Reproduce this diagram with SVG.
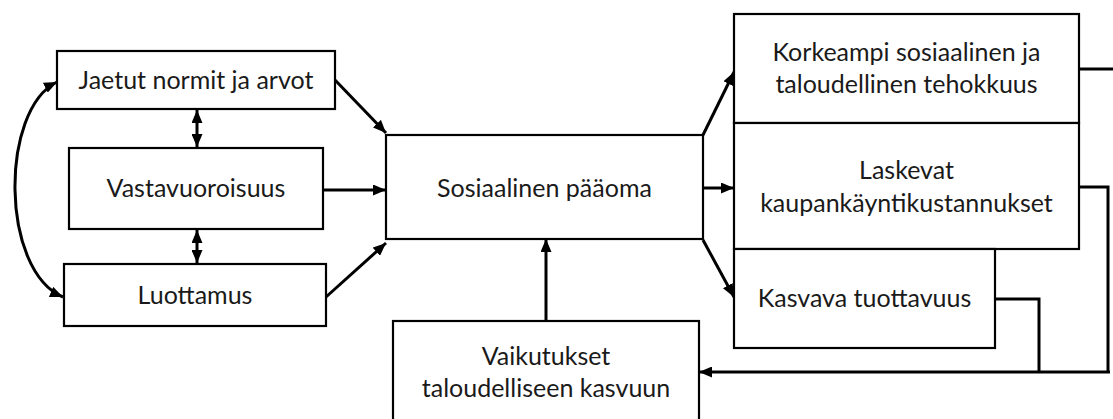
<svg xmlns="http://www.w3.org/2000/svg" width="1113" height="419" viewBox="0 0 1113 419">
<style>
.box{fill:#fff;stroke:#000;stroke-width:2.2}
.t{font-family:Lato,"Liberation Sans",sans-serif;font-size:25px;fill:#1a1a1a;text-anchor:middle}
.c{fill:none;stroke:#000;stroke-width:3}
</style>
<defs>
<marker id="ah" viewBox="0 0 13 11" refX="13" refY="5.5" markerWidth="13" markerHeight="11" markerUnits="userSpaceOnUse" orient="auto-start-reverse">
<path d="M0,0 L13,5.5 L0,11 z" fill="#000"/>
</marker>
</defs>
<rect width="1113" height="419" fill="#fff"/>
<g id="connectors">
<path class="c" d="M57,82 C0,110 0,270 63,297" marker-start="url(#ah)" marker-end="url(#ah)"/>
<path class="c" d="M197,110 L197,147" marker-start="url(#ah)" marker-end="url(#ah)"/>
<path class="c" d="M197,230 L197,263" marker-start="url(#ah)" marker-end="url(#ah)"/>
<path class="c" d="M335,80 L386,133" marker-end="url(#ah)"/>
<path class="c" d="M323,190 L386,190" marker-end="url(#ah)"/>
<path class="c" d="M326,297 L386,243" marker-end="url(#ah)"/>
<path class="c" d="M703,135 L734,72" marker-end="url(#ah)"/>
<path class="c" d="M703,188 L734,188" marker-end="url(#ah)"/>
<path class="c" d="M703,240 L734,297" marker-end="url(#ah)"/>
<path class="c" d="M546,321 L546,239" marker-end="url(#ah)"/>
<path class="c" d="M1079,69 L1116,69"/>
<path class="c" d="M1079,187 L1108,187 L1108,372"/>
<path class="c" d="M995,299 L1039,299 L1039,372"/>
<path class="c" d="M1110,372 L699,372" marker-end="url(#ah)"/>
</g>
<g id="n-jaetut"><rect class="box" x="57" y="51" width="278" height="58"/><text class="t" x="196" y="89">Jaetut normit ja arvot</text></g>
<g id="n-vastavuoroisuus"><rect class="box" x="69" y="148" width="254" height="81"/><text class="t" x="196" y="197">Vastavuoroisuus</text></g>
<g id="n-luottamus"><rect class="box" x="64" y="264" width="262" height="62"/><text class="t" x="195" y="304">Luottamus</text></g>
<g id="n-sosiaalinen"><rect class="box" x="386" y="135" width="317" height="104"/><text class="t" x="544.5" y="197">Sosiaalinen pääoma</text></g>
<g id="n-vaikutukset"><rect class="box" x="393" y="321" width="306" height="110"/><text class="t" x="546" y="365">Vaikutukset</text><text class="t" x="546" y="397">taloudelliseen kasvuun</text></g>
<g id="n-korkeampi"><rect class="box" x="734" y="14" width="345" height="109"/><text class="t" x="906.5" y="61">Korkeampi sosiaalinen ja</text><text class="t" x="906.5" y="93">taloudellinen tehokkuus</text></g>
<g id="n-laskevat"><rect class="box" x="734" y="123" width="345" height="126"/><text class="t" x="906.5" y="179">Laskevat</text><text class="t" x="906.5" y="212">kaupankäyntikustannukset</text></g>
<g id="n-kasvava"><rect class="box" x="734" y="249" width="261" height="99"/><text class="t" x="864.5" y="307">Kasvava tuottavuus</text></g>
</svg>
